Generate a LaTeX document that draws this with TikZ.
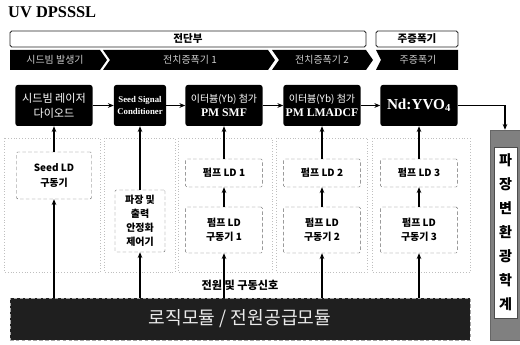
\documentclass[tikz,border=0pt]{standalone}
\usepackage{fontspec}
\newfontfamily\kr{Noto Sans CJK KR}
\newfontfamily\tm{Liberation Serif}
\usetikzlibrary{arrows.meta,positioning,calc}

\begin{document}
\begin{tikzpicture}[
		x=0.03cm, y=-0.03cm,
		blk/.style={rectangle, rounded corners=2pt, fill=black, text=white, minimum width=2.31cm, minimum height=1.23cm, align=center, inner sep=1pt},
		drv/.style={rectangle, rounded corners=1pt, draw=black!60, densely dashed, thin, fill=white, minimum width=2.3cm, align=center, inner sep=1pt, font=\kr\bfseries\fontsize{8.5}{12}\selectfont},
		hdr/.style={rectangle, rounded corners=1.5pt, draw=black!85, line width=0.8pt, fill=white, minimum height=0.48cm, inner sep=0pt, font=\kr\bfseries\fontsize{9}{10}\selectfont},
		stage/.style={text=white!80!black, font=\kr\fontsize{8.5}{10}\selectfont},
		col/.style={draw=black!25, dotted, thin},
		sig/.style={-{Stealth[length=5pt,width=4pt]}, line width=0.9pt}
		]
		\useasboundingbox (0,0) rectangle (520,345);
		
		% Titolo
		\node[anchor=west, font=\tm\bfseries\fontsize{14}{16}\selectfont, inner sep=0pt] (title) at (8,12) {UV DPSSSL};
		
		% Intestazioni
		\node[hdr, minimum width=10.68cm] (fe) at (188,39) {전단부};
		\node[hdr, minimum width=2.46cm] (ma) at (417,39) {주증폭기};
		
		% Fasi
		\fill[black] (10,50) -- (100,50) -- (107,60) -- (100,70) -- (10,70) -- cycle;
		\fill[black] (103,50) -- (268,50) -- (275,60) -- (268,70) -- (103,70) -- (110,60) -- cycle;
		\fill[black] (272,50) -- (366,50) -- (373,60) -- (366,70) -- (272,70) -- (279,60) -- cycle;
		\fill[black] (376,50) -- (458,50) -- (458,70) -- (376,70) -- (381,60) -- cycle;
		\node[stage] (st1) at (55,60) {시드빔 발생기};
		\node[stage] (st2) at (190,60) {전치증폭기 1};
		\node[stage] (st3) at (322,60) {전치증폭기 2};
		\node[stage] (st4) at (418,60) {주증폭기};
		
		% Colonne
		\draw[col] (4,138) rectangle (100,272);
		\draw[col] (104,138) rectangle (175,272);
		\draw[col] (178,138) rectangle (272,272);
		\draw[col] (276,138) rectangle (367,272);
		\draw[col] (372,138) rectangle (470,272);
		
		% Catena ottica
		\node[blk, font=\kr\fontsize{9.5}{13}\selectfont] (sdl) at (54,105.5) {시드빔 레이저\\다이오드};
		\node[blk, minimum width=1.56cm, font=\tm\bfseries\fontsize{7.5}{10}\selectfont] (ssc) at (140,105.5) {Seed Signal\\Conditioner};
		\node[blk, font=\kr\fontsize{8.5}{12}\selectfont] (smf) at (224,105.5) {이터븀(Yb) 첨가\\{\tm\bfseries\fontsize{10}{12}\selectfont PM SMF}};
		\node[blk, font=\kr\fontsize{8.5}{12}\selectfont] (lma) at (322,105.5) {이터븀(Yb) 첨가\\{\tm\bfseries\fontsize{10}{12}\selectfont PM LMADCF}};
		\node[blk, font=\tm\bfseries\fontsize{13}{15}\selectfont] (nd) at (419,105.5) {Nd:YVO\textsubscript{4}};
		
		% Driver
		\node[drv, minimum width=2.25cm, minimum height=1.41cm] (sld) at (54,175.5) {Seed LD\\구동기};
		\node[drv, minimum width=1.5cm, minimum height=1.86cm] (ctl) at (140,221) {파장 및\\출력\\안정화\\제어기};
		\node[drv, minimum height=0.84cm] (p1) at (224,173) {펌프 LD 1};
		\node[drv, minimum height=0.84cm] (p2) at (322,173) {펌프 LD 2};
		\node[drv, minimum height=0.84cm] (p3) at (419,173) {펌프 LD 3};
		\node[drv, minimum height=1.38cm] (d1) at (224,230) {펌프 LD\\구동기 1};
		\node[drv, minimum height=1.38cm] (d2) at (322,230) {펌프 LD\\구동기 2};
		\node[drv, minimum height=1.38cm] (d3) at (419,230) {펌프 LD\\구동기 3};
		
		% Moduli
		\node[rectangle, fill=black!88, draw=black!35, densely dashed, minimum width=13.8cm, minimum height=1.26cm, text=white!92!black, font=\kr\fontsize{15.5}{17}\selectfont] (logic) at (240,319) {로직모듈 / 전원공급모듈};
		\node[font=\kr\bfseries\fontsize{9.5}{11}\selectfont] (pwr) at (240,285) {전원 및 구동신호};
		\node[rectangle, fill=black!50, draw=black!60, minimum width=0.9cm, minimum height=6.3cm] (wc) at (505,235) {};
		\node[rectangle, fill=white, draw=black!70, minimum width=0.69cm, minimum height=5.13cm, align=center, font=\kr\bfseries\fontsize{12}{20.5}\selectfont] (wct) at (505.5,232.5) {파\\장\\변\\환\\광\\학\\계};
		
		% Frecce
		\draw[sig] (sdl.east) -- (ssc.west);
		\draw[sig] (ssc.east) -- (smf.west);
		\draw[sig] (smf.east) -- (lma.west);
		\draw[sig] (lma.east) -- (nd.west);
		\draw[sig] (nd.east) -| (wc.north);
		
		\draw[sig] (sld.north) -- (sdl.south);
		\draw[sig] (ctl.north) -- (ssc.south);
		\draw[sig] (p1.north) -- (smf.south);
		\draw[sig] (p2.north) -- (lma.south);
		\draw[sig] (p3.north) -- (nd.south);
		\draw[sig] (d1.north) -- (p1.south);
		\draw[sig] (d2.north) -- (p2.south);
		\draw[sig] (d3.north) -- (p3.south);
		
		\draw[sig] (logic.north -| sld) -- (sld.south);
		\draw[sig] (logic.north -| ctl) -- (ctl.south);
		\draw[sig] (logic.north -| d1) -- (d1.south);
		\draw[sig] (logic.north -| d2) -- (d2.south);
		\draw[sig] (logic.north -| d3) -- (d3.south);
	\end{tikzpicture}
\end{document}
